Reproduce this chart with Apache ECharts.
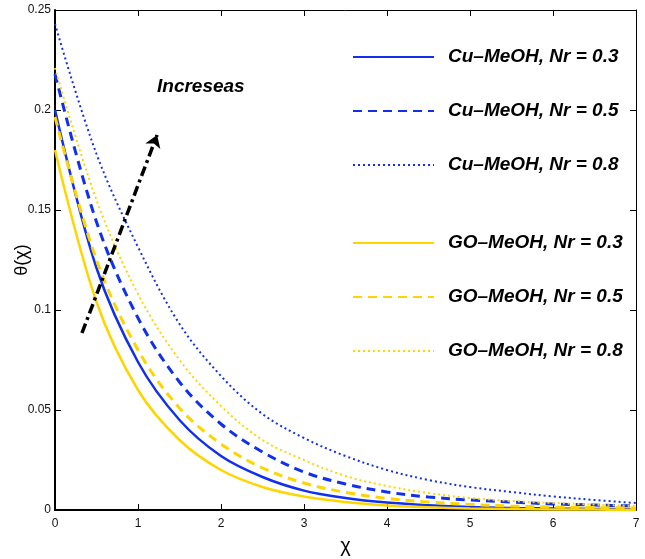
<!DOCTYPE html>
<html>
<head>
<meta charset="utf-8">
<script src="https://cdn.jsdelivr.net/npm/echarts@6/dist/echarts.min.js"></script>
<style>html,body{margin:0;padding:0;background:#fff}#c{width:645px;height:559px}</style>
</head>
<body>
<div id="c"></div>
<script>
// ---- data ----
const chi = [0, 0.5, 1, 1.5, 2, 2.5, 3, 3.5, 4, 4.5, 5, 5.5, 6, 6.5, 7];
const cuNr03 = [0.200, 0.121, 0.074, 0.045, 0.027, 0.0165, 0.0097, 0.006, 0.0037, 0.0024, 0.0015, 0.001, 0.0007, 0.0005, 0.0004];
const cuNr05 = [0.218, 0.144, 0.096, 0.064, 0.043, 0.029, 0.019, 0.013, 0.009, 0.0065, 0.005, 0.004, 0.003, 0.0025, 0.002];
const cuNr08 = [0.243, 0.178, 0.1315, 0.093, 0.067, 0.048, 0.036, 0.027, 0.020, 0.015, 0.0115, 0.009, 0.0068, 0.005, 0.0035];
const goNr03 = [0.180, 0.104, 0.060, 0.035, 0.020, 0.0115, 0.0067, 0.004, 0.0023, 0.0014, 0.0008, 0.0005, 0.0003, 0.0002, 0.0001];
const goNr05 = [0.1965, 0.125, 0.080, 0.051, 0.033, 0.021, 0.0135, 0.0088, 0.0058, 0.004, 0.0028, 0.002, 0.0015, 0.0012, 0.001];
const goNr08 = [0.221, 0.155, 0.108, 0.075, 0.052, 0.035, 0.025, 0.017, 0.012, 0.0085, 0.006, 0.0045, 0.0035, 0.0027, 0.002];
const seriesNames = ['Cu\u2013MeOH, Nr = 0.3', 'Cu\u2013MeOH, Nr = 0.5', 'Cu\u2013MeOH, Nr = 0.8',
                     'GO\u2013MeOH, Nr = 0.3', 'GO\u2013MeOH, Nr = 0.5', 'GO\u2013MeOH, Nr = 0.8'];
const xTicks = [0, 1, 2, 3, 4, 5, 6, 7];
const yTicks = [0, 0.05, 0.1, 0.15, 0.2, 0.25];
const arrowStart = [0.325, 0.0885];
const arrowEnd = [1.23, 0.1875];
const annotation = 'Increseas';

// ---- chart ----
const BLUE = '#1030ee';
const YEL = '#ffd500';
const pairs = v => chi.map((x, i) => [x, v[i]]);
const mk = (name, vals, color, type, width) => ({
  name, type: 'line', data: pairs(vals), smooth: 0.35, symbol: 'none',
  lineStyle: { color, type, width }, itemStyle: { color }, z: 3
});
const dashed = [9, 6];
const dotted = [2, 3];
const series = [
  mk(seriesNames[0], cuNr03, BLUE, 'solid', 2.5),
  mk(seriesNames[1], cuNr05, BLUE, dashed, 3),
  mk(seriesNames[2], cuNr08, BLUE, dotted, 2),
  mk(seriesNames[3], goNr03, YEL, 'solid', 2.5),
  mk(seriesNames[4], goNr05, YEL, dashed, 3),
  mk(seriesNames[5], goNr08, YEL, dotted, 2),
  {
    type: 'line', data: [], silent: true,
    markLine: {
      silent: true, animation: false,
      symbol: ['none', 'arrow'], symbolSize: 12,
      label: { show: false },
      lineStyle: { color: '#000', width: 3.5, type: [10, 4, 3, 4], opacity: 1 },
      emphasis: { disabled: true },
      data: [[{ coord: arrowStart }, { coord: arrowEnd }]]
    }
  }
];
const font = '"Liberation Sans", Arial, sans-serif';
const legendText = { fontFamily: font, fontSize: 19, fontWeight: 'bold', fontStyle: 'italic', color: '#000',
  lineHeight: 20, padding: [0, 0, 0, 9] };
const legendCommon = { orient: 'vertical', left: 347, itemWidth: 81, itemHeight: 12, itemGap: 34,
  textStyle: legendText, itemStyle: { opacity: 0 } };
const chart = echarts.init(document.getElementById('c'));
const axisLineDef = (w) => ({ show: true, onZero: false, lineStyle: { color: '#000', width: w } });
const tickDef = { show: true, inside: true, length: 6, lineStyle: { color: '#000' } };
chart.setOption({
  animation: false,
  backgroundColor: '#fff',
  grid: { left: 55, right: 9, top: 10, bottom: 49, containLabel: false, outerBoundsMode: 'none' },
  legend: [
    Object.assign({ data: seriesNames.slice(0, 3), top: 42 }, legendCommon),
    Object.assign({ data: seriesNames.slice(3), top: 228 }, legendCommon)
  ],
  xAxis: [
    { type: 'value', min: 0, max: 7, interval: 1,
      name: '\u03c7', nameLocation: 'middle', nameGap: 26,
      nameTextStyle: { fontFamily: font, fontSize: 20, color: '#000' },
      axisLine: axisLineDef(2), axisTick: tickDef,
      axisLabel: { fontFamily: font, fontSize: 12, color: '#111', margin: 8 },
      splitLine: { show: false } },
    { type: 'value', min: 0, max: 7, interval: 1, position: 'top',
      axisLine: axisLineDef(1), axisTick: tickDef,
      axisLabel: { show: false }, splitLine: { show: false } }
  ],
  yAxis: [
    { type: 'value', min: 0, max: 0.25, interval: 0.05,
      name: '\u03b8(\u03c7)', nameLocation: 'middle', nameGap: 24, nameMoveOverlap: false,
      nameTextStyle: { fontFamily: font, fontSize: 18, color: '#000' },
      axisLine: axisLineDef(2), axisTick: tickDef,
      axisLabel: { fontFamily: font, fontSize: 12, color: '#111', margin: 4,
        formatter: v => String(+v.toFixed(2)) },
      splitLine: { show: false } },
    { type: 'value', min: 0, max: 0.25, interval: 0.05, position: 'right',
      axisLine: axisLineDef(1), axisTick: tickDef,
      axisLabel: { show: false }, splitLine: { show: false } }
  ],
  graphic: [
    { type: 'text', left: 157, top: 77,
      style: { text: annotation, fontFamily: font, fontSize: 19, fontWeight: 'bold', fontStyle: 'italic', fill: '#000' } }
  ],
  series
});
</script>
</body>
</html>
